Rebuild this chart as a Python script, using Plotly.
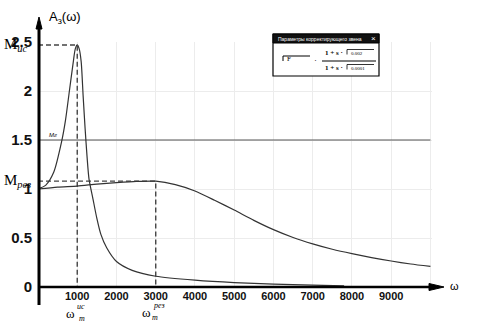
import plotly.graph_objects as go

# Frequency response curves (omega in rad/s, amplitude A_з)
omega_res = [0, 200, 400, 600, 700, 800, 900, 950, 1000, 1050, 1100, 1150, 1200,
             1250, 1300, 1400, 1500, 1600, 1750, 2000, 2400, 3000, 4000, 5000,
             6000, 7000, 7800]
a_res = [1.00, 1.04, 1.17, 1.48, 1.70, 2.00, 2.30, 2.43, 2.47, 2.43, 2.30, 1.95,
         1.62, 1.33, 1.10, 0.90, 0.70, 0.54, 0.40, 0.26, 0.17, 0.11, 0.07, 0.045,
         0.03, 0.02, 0.012]

omega_corr = [0, 500, 1000, 1500, 2000, 2500, 3000, 3500, 4000, 4500, 5000, 5500,
              6000, 6500, 7000, 7500, 8000, 8500, 9000, 9500, 10000]
a_corr = [1.00, 1.02, 1.03, 1.05, 1.065, 1.077, 1.08, 1.045, 0.98, 0.885, 0.785,
          0.68, 0.585, 0.505, 0.44, 0.385, 0.34, 0.30, 0.265, 0.235, 0.21]

# allowed level M_г
m_level = 1.5

x_ticks = [1000, 2000, 3000, 4000, 5000, 6000, 7000, 8000, 9000, 10000]
x_ticktext = ["1000", "2000", "3000", "4000", "5000", "6000", "7000", "8000", "9000", ""]
y_ticks = [0, 0.5, 1, 1.5, 2, 2.5]
y_ticktext = ["0", "0.5", "1", "1.5", "2", "2.5"]

# peak values
i_is = a_res.index(max(a_res))
w_is, m_is = omega_res[i_is], a_res[i_is]
i_rez = a_corr.index(max(a_corr))
w_rez, m_rez = omega_corr[i_rez], a_corr[i_rez]

W, H = 477, 324
L, T, R, B = 38, 42, 45, 37
PW, PH = W - L - R, H - T - B
X_MAX = 10040
Y_MAX = 2.5


def px(x):
    return (x - L) / PW


def py(y):
    return (H - B - y) / PH


fig = go.Figure()

line_col = "#333333"
dash_col = "#444444"

# dashed guides
fig.add_trace(go.Scatter(x=[0, w_is, w_is], y=[m_is, m_is, 0], mode="lines",
                         line=dict(color=dash_col, width=1.4, dash="5px,3px")))
fig.add_trace(go.Scatter(x=[0, w_rez, w_rez], y=[m_rez, m_rez, 0], mode="lines",
                         line=dict(color=dash_col, width=1.4, dash="5px,3px")))
# M_г level
fig.add_trace(go.Scatter(x=[0, 10000], y=[m_level, m_level], mode="lines",
                         line=dict(color="#555555", width=1.2)))
# curves
fig.add_trace(go.Scatter(x=omega_res, y=a_res, mode="lines",
                         line=dict(color=line_col, width=1.2, shape="spline", smoothing=0.7)))
fig.add_trace(go.Scatter(x=omega_corr, y=a_corr, mode="lines",
                         line=dict(color=line_col, width=1.2, shape="spline", smoothing=0.6)))

shapes = []
# axes with arrows
shapes.append(dict(type="line", xref="paper", yref="paper",
                   x0=px(39), y0=py(305), x1=px(39), y1=py(26),
                   line=dict(color="black", width=3)))
shapes.append(dict(type="path", xref="paper", yref="paper",
                   path=f"M {px(36)},{py(29)} L {px(39)},{py(17)} L {px(42)},{py(29)} Z",
                   fillcolor="black", line=dict(color="black", width=1)))
shapes.append(dict(type="line", xref="paper", yref="paper",
                   x0=px(38), y0=py(287), x1=px(432), y1=py(287),
                   line=dict(color="black", width=2.5)))
shapes.append(dict(type="path", xref="paper", yref="paper",
                   path=f"M {px(429)},{py(283.5)} L {px(444)},{py(287)} L {px(429)},{py(290.5)} Z",
                   fillcolor="black", line=dict(color="black", width=1)))

# parameter dialog
bx0, bx1, by0, by1 = 273, 379, 34, 76
shapes.append(dict(type="rect", xref="paper", yref="paper",
                   x0=px(bx0), x1=px(bx1), y0=py(by1), y1=py(by0),
                   fillcolor="white", line=dict(color="black", width=1.2)))
shapes.append(dict(type="rect", xref="paper", yref="paper",
                   x0=px(bx0), x1=px(bx1), y0=py(43), y1=py(by0),
                   fillcolor="#111111", line=dict(color="black", width=1)))
# placeholder box for F
shapes.append(dict(type="line", xref="paper", yref="paper",
                   x0=px(283), x1=px(310), y0=py(56), y1=py(56),
                   line=dict(color="black", width=1)))
shapes.append(dict(type="line", xref="paper", yref="paper",
                   x0=px(283), x1=px(283), y0=py(56), y1=py(61),
                   line=dict(color="black", width=1)))
# fraction bar
shapes.append(dict(type="line", xref="paper", yref="paper",
                   x0=px(322), x1=px(376), y0=py(61), y1=py(61),
                   line=dict(color="black", width=1)))
# value boxes
for yy in (49.5, 64.5):
    shapes.append(dict(type="line", xref="paper", yref="paper",
                       x0=px(347), x1=px(374), y0=py(yy), y1=py(yy),
                       line=dict(color="black", width=0.8)))
    shapes.append(dict(type="line", xref="paper", yref="paper",
                       x0=px(347), x1=px(347), y0=py(yy), y1=py(yy + 5),
                       line=dict(color="black", width=0.8)))

serif = "Liberation Serif, Times New Roman, serif"
sans = "Liberation Sans, Arial, sans-serif"


def label(x, y, text, size, family=serif, color="black", xanchor="center"):
    return dict(xref="paper", yref="paper", x=px(x), y=py(y), text=text,
                showarrow=False, xanchor=xanchor, yanchor="middle",
                font=dict(size=size, family=family, color=color))


annotations = [
    label(47, 17, "A<sub>з</sub>(ω)", 13, sans, xanchor="left"),
    label(2, 45, "M<sub><i>ис</i></sub>", 15, xanchor="left"),
    label(2, 181, "M<sub><i>рез</i></sub>", 15, xanchor="left"),
    label(47, 135, "<i>Мг</i>", 6, sans, xanchor="left"),
    label(455, 286, "ω", 11, sans),
    label(70, 313, "ω", 13, serif),
    label(75, 306, "<i>ис</i>", 8, serif, xanchor="left"),
    label(77, 318, "<i>m</i>", 8, serif, xanchor="left"),
    label(146, 312, "ω", 13, serif),
    label(151, 305, "<i>рез</i>", 8, serif, xanchor="left"),
    label(150, 317, "<i>m</i>", 8, serif, xanchor="left"),
    # dialog contents
    label(276, 38.5, "Параметры корректирующего звена", 5, sans, color="white", xanchor="left"),
    label(373, 38.5, "×", 8, sans, color="white"),
    label(285, 59, "F", 7, serif, xanchor="left"),
    label(315, 60, "·", 9, serif),
    label(323, 53, "<b>1 + s ·</b>", 7, serif, xanchor="left"),
    label(349, 53, "0.002", 5, serif, xanchor="left"),
    label(323, 68, "<b>1 + s ·</b>", 7, serif, xanchor="left"),
    label(349, 68, "0.0001", 5, serif, xanchor="left"),
]

fig.update_layout(
    width=W, height=H,
    margin=dict(l=L, r=R, t=T, b=B),
    paper_bgcolor="white", plot_bgcolor="white",
    showlegend=False,
    shapes=shapes,
    annotations=annotations,
    xaxis=dict(range=[0, X_MAX], tickvals=x_ticks, ticktext=x_ticktext,
               showgrid=True, gridcolor="#ececec", gridwidth=1,
               zeroline=False, showline=False, ticks="",
               tickfont=dict(family=sans, size=11, color="#111111", weight="bold"),
               ticklabelstandoff=1),
    yaxis=dict(range=[0, Y_MAX], tickvals=y_ticks, ticktext=y_ticktext,
               showgrid=True, gridcolor="#ececec", gridwidth=1,
               zeroline=False, showline=False, ticks="",
               tickfont=dict(family=sans, size=15, color="#111111", weight="bold"),
               ticklabelstandoff=5),
)

fig.write_html("out.html")
